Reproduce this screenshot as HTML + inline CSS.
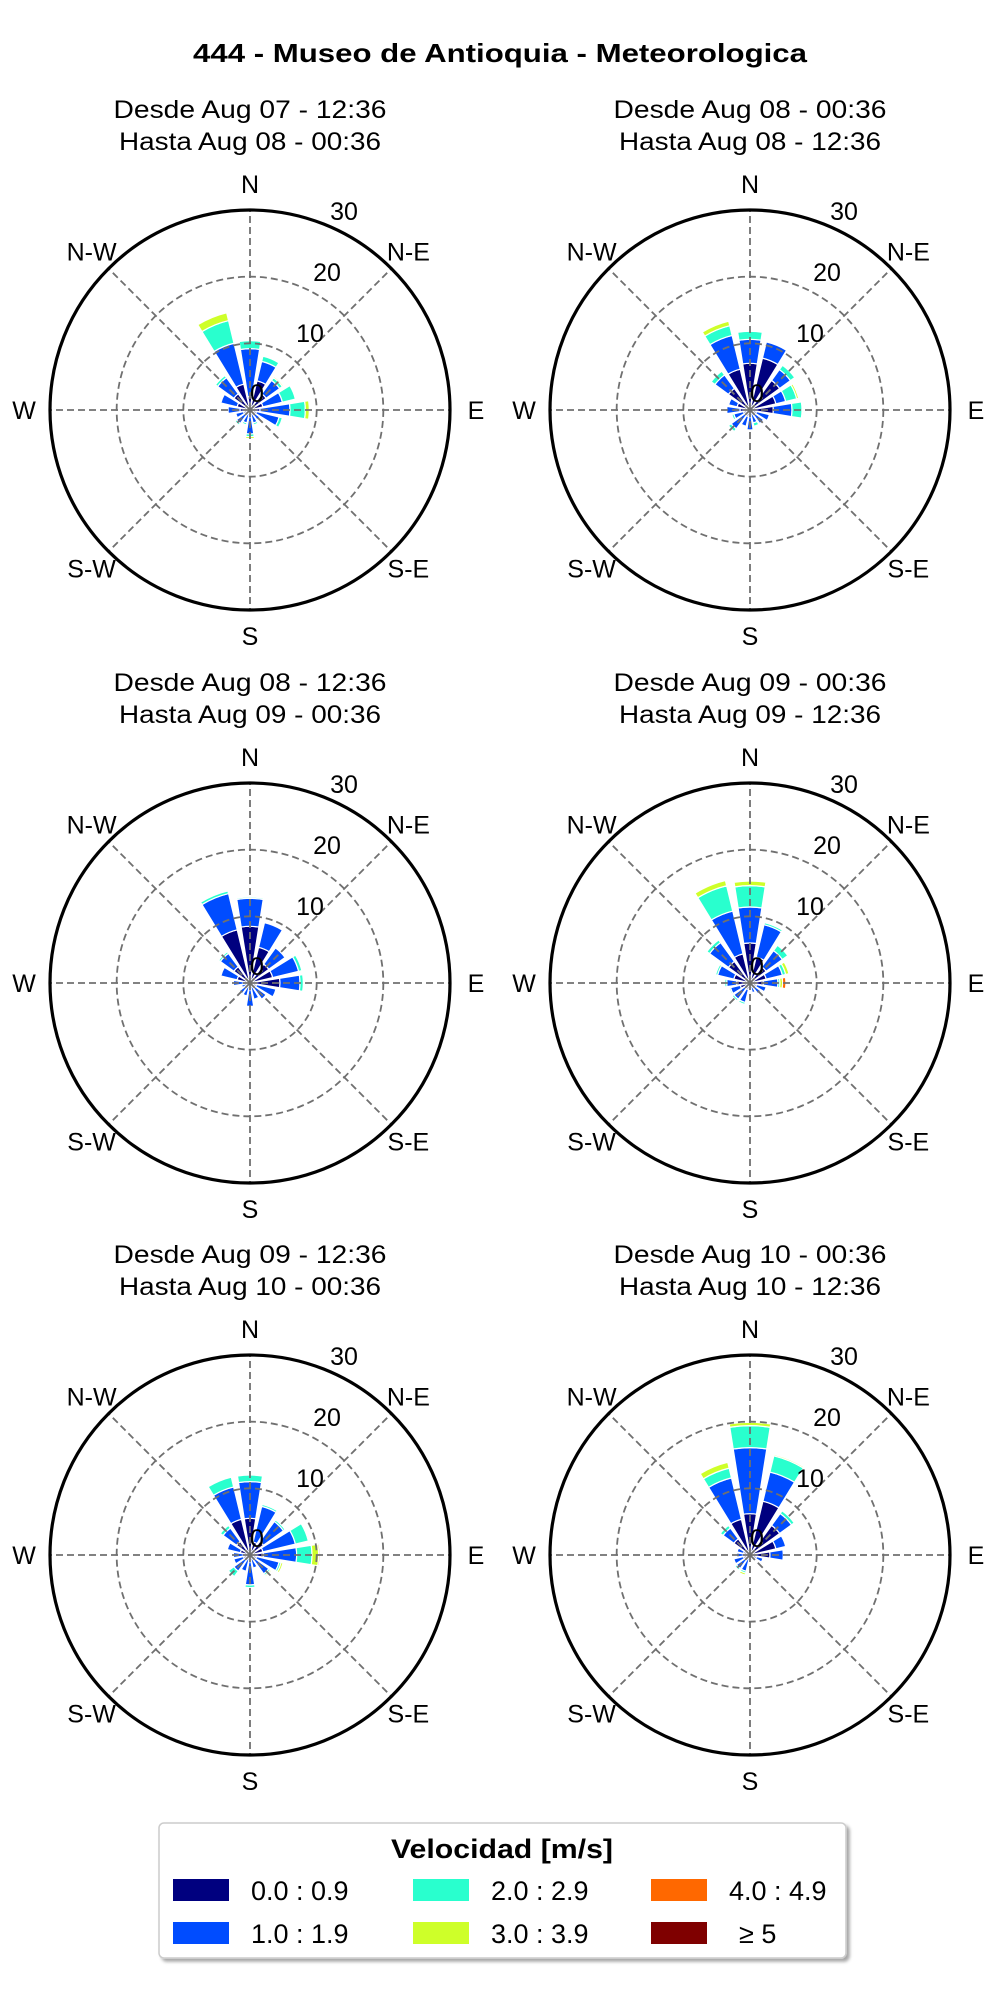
<!DOCTYPE html>
<html><head><meta charset="utf-8"><style>
html,body{margin:0;padding:0;background:#fff;}
svg{display:block;font-family:"Liberation Sans",sans-serif;}
</style></head><body>
<svg id="chart" width="1000" height="2000" viewBox="0 0 1000 2000" xmlns="http://www.w3.org/2000/svg">
<text x="500" y="62" text-anchor="middle" font-size="26" font-weight="bold" textLength="614" lengthAdjust="spacingAndGlyphs">444 - Museo de Antioquia - Meteorologica</text>
<g id="plots"></g>
<g>
<defs><filter id="sh" x="-5%" y="-5%" width="110%" height="120%"><feDropShadow dx="3" dy="3" stdDeviation="1.5" flood-color="#000" flood-opacity="0.35"/></filter></defs>
<rect x="159" y="1823" width="687" height="135" rx="5" fill="#fff" stroke="#ccc" stroke-width="1.5" filter="url(#sh)"/>
<text x="502" y="1858" text-anchor="middle" font-size="27" font-weight="bold" textLength="222" lengthAdjust="spacingAndGlyphs">Velocidad [m/s]</text>
<g id="legend-entries"></g>
</g>
</svg>
<script>
// Data: 16 directions (N, NNE, ... NNW), per speed bin frequency (%)
const directions = ["N","NNE","NE","ENE","E","ESE","SE","SSE","S","SSW","SW","WSW","W","WNW","NW","NNW"];
const speedBins = ["0.0 : 0.9","1.0 : 1.9","2.0 : 2.9","3.0 : 3.9","4.0 : 4.9","\u2265  5"];
const binColors = ["#00007f","#004cff","#29ffce","#ceff29","#ff6800","#7f0000"];
const titles1 = ["Desde Aug 07 - 12:36","Desde Aug 08 - 00:36","Desde Aug 08 - 12:36","Desde Aug 09 - 00:36","Desde Aug 09 - 12:36","Desde Aug 10 - 00:36"];
const titles2 = ["Hasta Aug 08 - 00:36","Hasta Aug 08 - 12:36","Hasta Aug 09 - 00:36","Hasta Aug 09 - 12:36","Hasta Aug 10 - 00:36","Hasta Aug 10 - 12:36"];
const radialTicks = [0,10,20,30];
const compassLabels = ["N","N-E","E","S-E","S","S-W","W","N-W"];
const rose1 = [[2,7.2,1.2],[4.5,3,0.8],[3,2.5,0.5,0.2],[2,3,2],[1.5,4.5,2.3,0.6],[1,3.5,0.5],[0.5,1.3,0.2],[0,2,0.3],[1,2.6,0.4,0.3],[0,2,0.3],[0,2.5,0.3],[1,1.2],[1.5,1.8],[2,2.5],[3,3,0.4],[4,6.3,3.5,1.2]];
const rose2 = [[7,3.6,1.2],[8,2.5],[5.5,2,0.8],[4,1.5,1.7,0.3],[3.5,2.8,1.5],[1,2],[1,1.5],[0.5,1.5,0.5],[1,2],[1,1.5],[1,2.5,0.5],[1,1.5,0.3],[1.5,2],[2,1.3],[4,2.5,0.7],[6.3,5.2,1.5,0.7]];
const rose3 = [[8.5,4.2,0.2],[5.5,3.8],[3.5,3],[3.5,4,0.5],[4.5,3,0.5],[1,3],[1,2],[0.5,2],[1,2.5],[0.5,1.5],[0.5,1.5],[0.3,1],[1,1.5],[2,2.5],[3,2.5,0.3],[8.2,5.6,0.4]];
const rose4 = [[6,5.4,3.2,0.7],[4,5,0.3],[3,3,1],[2.5,2.5,0.5,0.5],[2,2.2,0.3,0.4,0.5],[1,1.5],[0.5,1.5],[0.5,1],[0.5,0.5],[1,2,0.3],[1,2,0.3],[1.5,1.5,0.2],[2,1.5,0.3],[2.5,2.5,0.3],[4,3.5,0.5],[4.5,6.6,3.9,0.8]];
const rose5 = [[5.5,5.5,1],[2,5.5,0.3],[2.5,3.7,0.3],[2,5,2],[2,5,2.3,1,0.2],[1,3.5,0.3,0.3],[1,2.5,0.3,0.2],[0.5,1.5],[1,3.5,0.4],[0.5,2],[1,2,1],[1,1.5],[1,1.5],[1.5,2],[2.5,2.5,0.5],[5.5,5,1.5]];
const rose6 = [[6.2,9.9,3.3,0.5],[8.3,4.5,2.5,0.2],[5.5,2.2,0.5],[4,1.5],[3,2],[1,1],[0.5,0.5],[0.3,0.5],[0.5,0.5],[0.5,2,0.3,0.3],[1,1.5,0.3],[1,1.5],[1,1],[1,1],[3,2,0.5],[5.5,6.4,1.5,0.9]];
const roses = [rose1,rose2,rose3,rose4,rose5,rose6];

const NS="http://www.w3.org/2000/svg";
const R=200, RMAX=30;
const rScale = v => v/RMAX*R;
const centers=[[250,410],[750,410],[250,983],[750,983],[250,1555],[750,1555]];
function mk(tag,attrs,parent){const e=document.createElementNS(NS,tag);for(const k in attrs)e.setAttribute(k,attrs[k]);parent.appendChild(e);return e;}
function pt(cx,cy,r,deg){const a=deg*Math.PI/180;return [cx+r*Math.sin(a),cy-r*Math.cos(a)];}
const plots=document.getElementById('plots');
roses.forEach((rose,pi)=>{
  const [cx,cy]=centers[pi];
  const g=mk('g',{},plots);
  
  
  const t1=mk('text',{x:cx,y:cy-292,'text-anchor':'middle','font-size':25,textLength:273,lengthAdjust:'spacingAndGlyphs'},g);
  t1.textContent=titles1[pi];
  
  
  const t2=mk('text',{x:cx,y:cy-260,'text-anchor':'middle','font-size':25,textLength:262,lengthAdjust:'spacingAndGlyphs'},g);
  t2.textContent=titles2[pi];
  
  
  const bw=18;
  rose.forEach((stack,di)=>{
    const ang=di*22.5; let acc=0;
    stack.forEach((v,bi)=>{
      if(v<=0){return;}
      const r0=rScale(acc), r1=rScale(acc+v); acc+=v;
      const a0=ang-bw/2,a1=ang+bw/2;
      const p1=pt(cx,cy,r0,a0),p2=pt(cx,cy,r1,a0),p3=pt(cx,cy,r1,a1),p4=pt(cx,cy,r0,a1);
      const d=`M${p1[0]},${p1[1]}L${p2[0]},${p2[1]}A${r1},${r1} 0 0 1 ${p3[0]},${p3[1]}L${p4[0]},${p4[1]}`+(r0>0?`A${r0},${r0} 0 0 0 ${p1[0]},${p1[1]}`:'')+'Z';
      const p=mk('path',{d:d,fill:binColors[bi],stroke:'#fff','stroke-width':1.2},g);
      
      
    });
  });
  [10,20].forEach(v=>{
    const c=mk('circle',{cx:cx,cy:cy,r:rScale(v),fill:'none',stroke:'#707070','stroke-width':1.8,'stroke-dasharray':'7,4'},g);
    
    
  });
  for(let k=0;k<8;k++){
    const e=pt(cx,cy,R,k*45);
    const l=mk('line',{x1:cx,y1:cy,x2:e[0],y2:e[1],stroke:'#707070','stroke-width':1.8,'stroke-dasharray':'7,4'},g);
    
    
  }
  const oc=mk('circle',{cx:cx,cy:cy,r:R,fill:'none',stroke:'#000','stroke-width':3.2},g);
  
  
  compassLabels.forEach((lab,k)=>{
    const diag=k%2===1; const rr=diag?224:226;
    const p=pt(cx,cy,rr,k*45);
    const t=mk('text',{x:p[0],y:p[1]+9,'text-anchor':'middle','font-size':25},g);
    t.textContent=lab;
    
    
  });
  radialTicks.forEach(v=>{
    const dx = v===0?7:43+1.7*v, dy = v===0?-17:-16-6.1*v;
    const t=mk('text',{x:cx+dx,y:cy+dy+9,'text-anchor':'middle','font-size':25},g);
    t.textContent=String(v);
    
    
  });
});
const le=document.getElementById('legend-entries');
const colX=[173,413,651], rowY=[1890,1933];
speedBins.forEach((lab,i)=>{
  const col=Math.floor(i/2), row=i%2;
  const g=mk('g',{},le);
  
  
  mk('rect',{x:colX[col],y:rowY[row]-11,width:56,height:22,fill:binColors[i]},g);
  const t=mk('text',{x:colX[col]+(i===5?88:78),y:rowY[row]+10,'font-size':27},g);
  t.textContent=lab;
});
</script>
</body></html>
